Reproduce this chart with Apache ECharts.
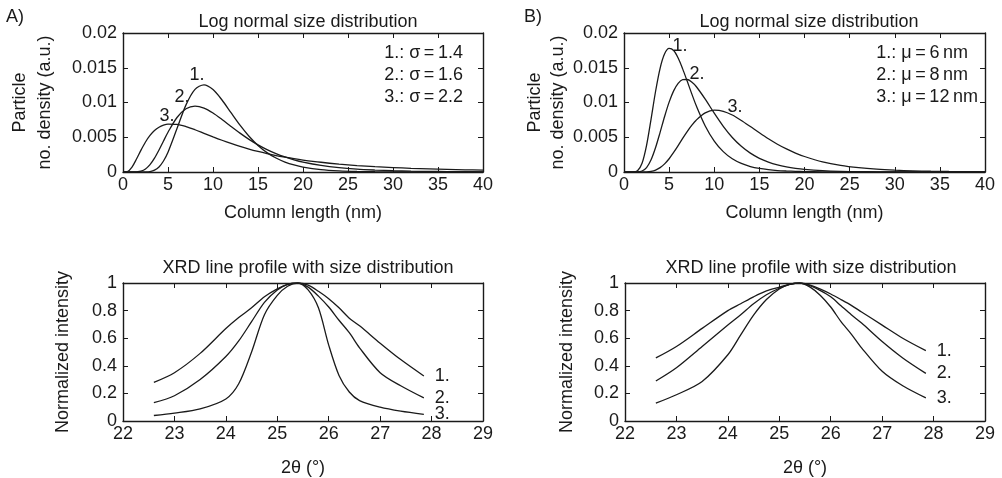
<!DOCTYPE html>
<html>
<head>
<meta charset="utf-8">
<script src="https://cdn.jsdelivr.net/npm/echarts@6/dist/echarts.min.js"></script>
<style>html,body{margin:0;padding:0;background:#fff}#c{width:1002px;height:478px}</style>
</head>
<body>
<div id="c"></div>
<script>
// ---- Panel A (top-left): log-normal size distributions, sigma = 1.4 / 1.6 / 2.2
const xA = [0,0.5,1,1.5,2,2.5,3,3.5,4,4.5,5,6,7,8,9,10,11,12,13,14,15,16,17,18,19,20,22,24,26,28,30,32,34,36,38,40];
const a1 = [0,0,0,0,0,0.00001,0.00007,0.00026,0.00073,0.00158,0.00284,0.00625,0.00966,0.01189,0.01254,0.01186,0.01036,0.00853,0.00673,0.00514,0.00382,0.00279,0.00201,0.00143,0.00101,0.00071,0.00035,0.00017,0.00008,0.00004,0.00002,0.00001,0,0,0,0];
const a2 = [0,0,0,0.00002,0.00012,0.00044,0.00106,0.00200,0.00317,0.00446,0.00572,0.00784,0.00909,0.00948,0.00920,0.00849,0.00756,0.00656,0.00559,0.00469,0.00390,0.00322,0.00264,0.00216,0.00176,0.00143,0.00095,0.00062,0.00041,0.00028,0.00018,0.00012,0.00008,0.00006,0.00004,0.00003];
const a3 = [0,0.00007,0.00071,0.00187,0.00315,0.00432,0.00526,0.00596,0.00644,0.00673,0.00688,0.00684,0.00653,0.00608,0.00557,0.00506,0.00457,0.00411,0.00368,0.00330,0.00296,0.00265,0.00237,0.00213,0.00191,0.00172,0.00140,0.00114,0.00093,0.00077,0.00064,0.00053,0.00045,0.00038,0.00032,0.00027];

// ---- Panel B (top-right): log-normal, mu = 6 / 8 / 12 nm
const xB = [0,1,1.5,2,2.5,3,3.5,4,4.5,5,5.5,6,6.5,7,7.5,8,9,10,11,12,13,14,15,16,17,18,19,20,22,24,26,28,30,32,34,36,38,40];
const b1 = [0,0.00001,0.00019,0.00125,0.00383,0.00761,0.01162,0.01492,0.01700,0.01778,0.01748,0.01640,0.01484,0.01308,0.01128,0.00956,0.00663,0.00445,0.00293,0.00190,0.00123,0.00079,0.00051,0.00033,0.00021,0.00014,0.00009,0.00006,0.00003,0.00001,0,0,0,0,0,0,0,0];
const b2 = [0,0,0.00001,0.00014,0.00064,0.00176,0.00352,0.00571,0.00799,0.01005,0.01167,0.01275,0.01328,0.01331,0.01295,0.01230,0.01048,0.00846,0.00657,0.00497,0.00370,0.00271,0.00197,0.00143,0.00103,0.00074,0.00053,0.00038,0.00020,0.00010,0.00006,0.00003,0.00002,0.00001,0,0,0,0];
const b3 = [0,0,0,0,0.00002,0.00010,0.00028,0.00063,0.00117,0.00191,0.00281,0.00380,0.00483,0.00581,0.00670,0.00746,0.00850,0.00889,0.00874,0.00820,0.00742,0.00654,0.00564,0.00478,0.00400,0.00332,0.00273,0.00223,0.00146,0.00095,0.00062,0.00040,0.00026,0.00017,0.00011,0.00007,0.00005,0.00003];

// ---- XRD line profiles (bottom row)
const xR = [22.6,23,23.5,24,24.25,24.5,24.75,25,25.2,25.4,25.6,25.8,26,26.2,26.4,26.6,27,27.4,27.85];
const cL1 = [0.28,0.35,0.49,0.67,0.75,0.82,0.90,0.957,0.99,1.0,0.985,0.94,0.886,0.82,0.745,0.69,0.564,0.445,0.326];
const cL2 = [0.133,0.183,0.30,0.467,0.58,0.72,0.86,0.95,0.99,1.0,0.97,0.905,0.826,0.73,0.64,0.53,0.35,0.255,0.167];
const cL3 = [0.04,0.057,0.088,0.16,0.27,0.5,0.77,0.91,0.976,1.0,0.95,0.82,0.55,0.33,0.21,0.148,0.10,0.071,0.048];
const cR1 = [0.457,0.54,0.671,0.80,0.85,0.90,0.943,0.97,0.99,1.0,0.985,0.955,0.92,0.88,0.838,0.79,0.695,0.6,0.51];
const cR2 = [0.29,0.386,0.54,0.695,0.77,0.85,0.915,0.962,0.99,1.0,0.98,0.945,0.9,0.835,0.77,0.71,0.576,0.457,0.345];
const cR3 = [0.129,0.19,0.286,0.48,0.624,0.767,0.88,0.957,0.99,1.0,0.97,0.91,0.826,0.72,0.63,0.53,0.36,0.255,0.167];

const curveNames = ['1.','2.','3.'];
const legendA = ['1.: σ\u2009=\u20091.4','2.: σ\u2009=\u20091.6','3.: σ\u2009=\u20092.2'];
const legendB = ['1.: μ\u2009=\u20096\u2009nm','2.: μ\u2009=\u20098\u2009nm','3.: μ\u2009=\u200912\u2009nm'];

const FONT = '"Liberation Sans", Arial, Helvetica, sans-serif';
const INK = '#1a1a1a';
const FS = 18;

const zip = (xs, ys) => xs.map((x, i) => [x, ys[i]]);

const grids = [
  {left:123, top:33, width:360, height:139},
  {left:624, top:33, width:361, height:139},
  {left:123, top:283, width:360, height:139},
  {left:625, top:283, width:360, height:139}
];

function xAxisPair(gi, min, max, interval, name, gap) {
  const common = {
    type:'value', gridIndex:gi, min, max, interval,
    axisLine:{show:true, onZero:false, lineStyle:{color:INK, width:1.4}},
    axisTick:{show:true, inside:true, length:5, lineStyle:{color:INK, width:1}},
    splitLine:{show:false}
  };
  return [
    Object.assign({}, common, {position:'bottom',
      axisLabel:{show:true, color:INK, fontFamily:FONT, fontSize:FS, margin:4},
      name, nameLocation:'middle', nameGap:gap,
      nameTextStyle:{color:INK, fontFamily:FONT, fontSize:FS}}),
    Object.assign({}, common, {position:'top', axisLabel:{show:false}})
  ];
}
function yAxisPair(gi, min, max, interval, name, gap, lh) {
  const common = {
    type:'value', gridIndex:gi, min, max, interval,
    axisLine:{show:true, onZero:false, lineStyle:{color:INK, width:1.4}},
    axisTick:{show:true, inside:true, length:5, lineStyle:{color:INK, width:1}},
    splitLine:{show:false}
  };
  return [
    Object.assign({}, common, {position:'left',
      axisLabel:{show:true, color:INK, fontFamily:FONT, fontSize:FS, margin:6},
      name, nameLocation:'middle', nameGap:gap, nameRotate:90,
      nameTextStyle:{color:INK, fontFamily:FONT, fontSize:FS, lineHeight:lh}}),
    Object.assign({}, common, {position:'right', axisLabel:{show:false}})
  ];
}

const xAxes = [].concat(
  xAxisPair(0, 0, 40, 5, 'Column length (nm)', 32),
  xAxisPair(1, 0, 40, 5, 'Column length (nm)', 32),
  xAxisPair(2, 22, 29, 1, '2θ (°)', 38),
  xAxisPair(3, 22, 29, 1, '2θ (°)', 38)
);
const yAxes = [].concat(
  yAxisPair(0, 0, 0.02, 0.005, 'Particle\nno. density (a.u.)', 65, 25),
  yAxisPair(1, 0, 0.02, 0.005, 'Particle\nno. density (a.u.)', 47, 23),
  yAxisPair(2, 0, 1, 0.2, 'Normalized intensity', 47, 25),
  yAxisPair(3, 0, 1, 0.2, 'Normalized intensity', 45, 25)
);

function line(axisIdx, xs, ys, smooth, endLabel) {
  const s = {
    type:'line', xAxisIndex:axisIdx*2, yAxisIndex:axisIdx*2,
    data: zip(xs, ys), showSymbol:false, symbol:'none', smooth:smooth,
    lineStyle:{color:INK, width:1.3}, silent:true, animation:false
  };
  if (endLabel) {
    s.endLabel = {show:true, formatter:endLabel, color:INK, fontFamily:FONT, fontSize:FS, distance:11};
  }
  return s;
}

const series = [
  line(0, xA, a1, 0.3), line(0, xA, a2, 0.3), line(0, xA, a3, 0.3),
  line(1, xB, b1, 0.3), line(1, xB, b2, 0.3), line(1, xB, b3, 0.3),
  line(2, xR, cL1, 0.3, curveNames[0]), line(2, xR, cL2, 0.3, curveNames[1]), line(2, xR, cL3, 0.3, curveNames[2]),
  line(3, xR, cR1, 0.3, curveNames[0]), line(3, xR, cR2, 0.3, curveNames[1]), line(3, xR, cR3, 0.3, curveNames[2])
];

const titleStyle = {color:INK, fontFamily:FONT, fontSize:FS, fontWeight:'normal'};
const titles = [
  {text:'Log normal size distribution', left:303, top:8, textAlign:'center', textStyle:titleStyle},
  {text:'Log normal size distribution', left:804, top:8, textAlign:'center', textStyle:titleStyle},
  {text:'XRD line profile with size distribution', left:303, top:254, textAlign:'center', textStyle:titleStyle},
  {text:'XRD line profile with size distribution', left:806, top:254, textAlign:'center', textStyle:titleStyle}
];

function txt(x, y, text, align, extra) {
  return Object.assign({type:'text', x, y, silent:true,
    style:{text, fill:INK, font:FS + 'px ' + FONT, textAlign:align || 'center', textVerticalAlign:'middle'}}, extra || {});
}

const graphic = [
  txt(15, 17, 'A)'), txt(533, 17, 'B)'),
  txt(463, 53, legendA[0], 'right'), txt(463, 75, legendA[1], 'right'), txt(463, 97, legendA[2], 'right'),
  txt(968, 53, legendB[0], 'right'), txt(968, 75, legendB[1], 'right'), txt(978, 97, legendB[2], 'right'),
  txt(197, 75, curveNames[0]), txt(182, 97, curveNames[1]), txt(167, 116, curveNames[2]),
  txt(680, 46, curveNames[0]), txt(697, 74, curveNames[1]), txt(735, 107, curveNames[2])
];

const chart = echarts.init(document.getElementById('c'), null, {renderer:'canvas'});
chart.setOption({
  backgroundColor:'#fff',
  animation:false,
  textStyle:{fontFamily:FONT},
  title: titles,
  grid: grids,
  xAxis: xAxes,
  yAxis: yAxes,
  series,
  graphic
});
</script>
</body>
</html>
